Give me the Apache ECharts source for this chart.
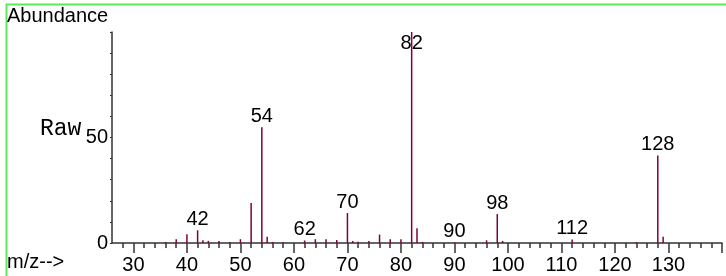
<!DOCTYPE html>
<html>
<head>
<meta charset="utf-8">
<script src="https://cdn.jsdelivr.net/npm/echarts@6/dist/echarts.min.js"></script>
<style>
  html, body { margin: 0; padding: 0; background: #fff; }
  #main { width: 726px; height: 276px; }
</style>
</head>
<body>
<div id="main"></div>
<script>
// spectrum (m/z, abundance scaled so base peak = 100)
var mz =        [36, 38, 40, 42, 43, 44, 46, 48, 50, 52, 54, 55, 56, 58, 62, 64, 66, 68, 70, 71, 72, 74, 76, 78, 80, 82, 83, 84, 90, 96, 98, 99, 112, 124, 128, 129];
var abundance = [0.5, 1.8, 4.1, 6, 1.3, 1, 1, 0.5, 1.8, 19, 54.8, 3, 0.5, 0.3, 1.2, 1.8, 1.8, 1.4, 14.2, 1, 0.6, 1, 4, 1.8, 1.8, 100, 7, 0.5, 0.3, 1.3, 13.7, 1, 1.7, 0.4, 41.5, 3];
var labelled = [42, 54, 62, 70, 82, 90, 98, 112, 128];

var xTickLabels = [30, 40, 50, 60, 70, 80, 90, 100, 110, 120, 130];
var xMajorTicks = [30, 40, 50, 60, 70, 80, 90, 100, 110, 120, 130, 140];
var xMinorTicks = [28, 30, 32, 34, 36, 38, 40, 42, 44, 46, 48, 50, 52, 54, 56, 58, 60, 62, 64, 66, 68, 70,
                   72, 74, 76, 78, 80, 82, 84, 86, 88, 90, 92, 94, 96, 98, 100, 102, 104, 106, 108, 110,
                   112, 114, 116, 118, 120, 122, 124, 126, 128, 130, 132, 134, 136, 138, 140];
var yTickLabels = [0, 50];
var yTicks = [0, 10, 20, 30, 40, 50, 60, 70, 80, 90, 100];

var font = "'Liberation Sans', Arial, sans-serif";
var axisColor = '#333';

var barData = mz.map(function (m, i) {
    var item = { value: [m, abundance[i]] };
    if (labelled.indexOf(m) >= 0) {
        item.label = { show: true };
        if (abundance[i] >= 90) {
            // base peak: label drawn over the line, below the top of the axis
            item.label.position = 'insideTop';
            item.label.distance = 1;
        }
    }
    return item;
});

var chart = echarts.init(document.getElementById('main'));
var option = {
    animation: false,
    grid: { left: 112, right: 4, top: 32, bottom: 33 },
    xAxis: [
        {
            type: 'value',
            min: 26,
            max: 140,
            axisLine: { show: true, lineStyle: { color: axisColor, width: 1.5 } },
            axisTick: { show: true, length: 10, customValues: xMajorTicks, lineStyle: { color: axisColor, width: 1.5 } },
            axisLabel: { customValues: xTickLabels, fontSize: 20, fontFamily: font, color: '#000', margin: 12 },
            splitLine: { show: false }
        },
        {
            type: 'value',
            min: 26,
            max: 140,
            position: 'bottom',
            axisLine: { show: false },
            axisTick: { show: true, length: 5, customValues: xMinorTicks, lineStyle: { color: axisColor, width: 1.5 } },
            axisLabel: { show: false },
            splitLine: { show: false }
        }
    ],
    yAxis: {
        type: 'value',
        min: 0,
        max: 100,
        axisLine: { show: true, lineStyle: { color: axisColor, width: 1.5 } },
        axisTick: { show: true, length: 2, customValues: yTicks, lineStyle: { color: axisColor } },
        axisLabel: { customValues: yTickLabels, fontSize: 20, fontFamily: font, color: '#000', margin: 4, padding: [0, 0, 8, 0] },
        splitLine: { show: false }
    },
    series: [
        {
            type: 'bar',
            xAxisIndex: 0,
            barWidth: 1.5,
            itemStyle: { color: '#80003f' },
            label: {
                show: false,
                position: 'top',
                distance: 1,
                fontSize: 20,
                fontFamily: font,
                color: '#000',
                formatter: function (p) { return p.value[0]; }
            },
            data: barData
        }
    ],
    graphic: [
        { type: 'line', shape: { x1: 6, y1: 4.5, x2: 726, y2: 4.5 }, style: { stroke: '#5ee85e', lineWidth: 2 } },
        { type: 'line', shape: { x1: 6.5, y1: 4, x2: 6.5, y2: 276 }, style: { stroke: '#5ee85e', lineWidth: 2 } },
        { type: 'text', left: 7, top: 6, style: { text: 'Abundance', font: '20px ' + font, fill: '#000' } },
        { type: 'text', left: 40, top: 117, style: { text: 'Raw', font: '23px "Courier New", "Liberation Mono", monospace', fill: '#000' } },
        { type: 'text', left: 7, top: 252, style: { text: 'm/z-->', font: '20px ' + font, fill: '#000' } }
    ]
};
chart.setOption(option);
</script>
</body>
</html>
